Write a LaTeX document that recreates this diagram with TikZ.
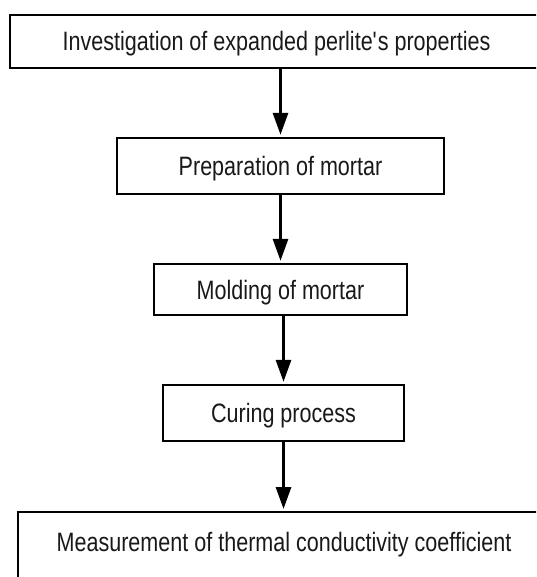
\documentclass[tikz,border=0pt]{standalone}
\usepackage{fontspec}
\setmainfont{Liberation Sans}[FakeStretch=0.81]
\usetikzlibrary{arrows.meta}
\begin{document}
\begin{tikzpicture}[x=1pt,y=-1pt,
  box/.style={draw=black, line width=2.4pt, rectangle, inner sep=0pt,
    text height=19pt, text depth=0pt,
    font=\fontsize{26.6}{30}\selectfont, text=black!90},
  arr/.style={line width=3pt, -{Triangle[width=15pt,length=22pt]}, shorten >=2pt}]
\useasboundingbox (0,0) rectangle (536,577);
\fill[white] (0,0) rectangle (536,577);
\clip (0,0) rectangle (536,577);
\node[box, minimum width=533pt, minimum height=53pt] (n1) at (276.5,41.5) {Investigation of expanded perlite\textquotesingle s properties};
\node[box, minimum width=327pt, minimum height=56pt] (n2) at (280.5,166) {Preparation of mortar};
\node[box, minimum width=253pt, minimum height=51pt] (n3) at (280.5,289.5) {Molding of mortar};
\node[box, minimum width=241pt, minimum height=56pt] (n4) at (283.5,413) {Curing process};
\node[box, anchor=north, minimum width=532pt, inner ysep=20pt, text depth=40pt] (n5) at (284,511) {Measurement of thermal conductivity coefficient};
\draw[arr] (n1.south -| n2) -- (n2.north);
\draw[arr] (n2.south) -- (n3.north);
\draw[arr] (n3.south -| n4) -- (n4.north);
\draw[arr] (n4.south) -- (n5.north -| n4);
\end{tikzpicture}
\end{document}
